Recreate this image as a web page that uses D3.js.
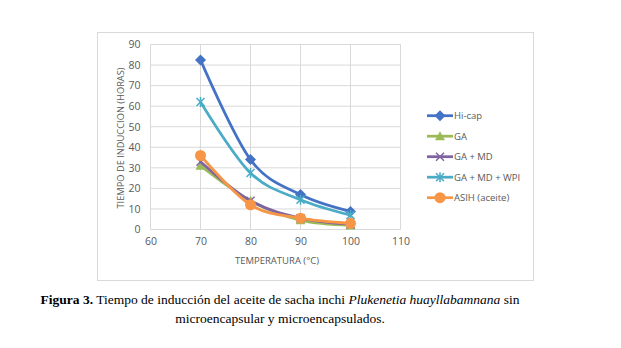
<!DOCTYPE html>
<html>
<head>
  <meta charset="utf-8">
  <title>Tiempo de inducción</title>
  <style>
    body { margin: 0; background: #fff; }
    svg { display: block; }
  </style>
</head>
<body>
  <svg id="chart" width="621" height="348"></svg>

  <script src="https://d3js.org/d3.v7.min.js"></script>
  <script>
    // datos
    const temperatures = [70, 80, 90, 100];
    const seriesNames = ["Hi-cap", "GA", "GA + MD", "GA + MD + WPI", "ASIH (aceite)"];
    const hiCap = [82.5, 34, 17, 8.8];
    const ga = [31, 14, 4.5, 2];
    const gaMd = [33, 14, 5.5, 2.5];
    const gaMdWpi = [62, 27.5, 14.5, 7];
    const asih = [36, 12, 5.5, 3];
    const xTicks = [60, 70, 80, 90, 100, 110];
    const yTicks = [0, 10, 20, 30, 40, 50, 60, 70, 80, 90];

    const seriesValues = [hiCap, ga, gaMd, gaMdWpi, asih];
    const colors = ["#4472C4", "#9BBB59", "#8064A2", "#4BACC6", "#F79646"];
    const markers = ["diamond", "triangle", "x", "star", "circle"];

    const svg = d3.select("#chart");
    const font = "'Open Sans', sans-serif";

    // marco del gráfico
    svg.append("rect")
      .attr("x", 97.5).attr("y", 32.5)
      .attr("width", 436).attr("height", 248)
      .attr("fill", "#fff")
      .attr("stroke", "#d9d9d9");

    const x = d3.scaleLinear().domain([60, 110]).range([150.5, 400.5]);
    const y = d3.scaleLinear().domain([0, 90]).range([229.5, 44.5]);

    // cuadrícula
    svg.append("g").selectAll("line").data(yTicks).join("line")
      .attr("x1", x(60)).attr("x2", x(110))
      .attr("y1", d => y(d)).attr("y2", d => y(d))
      .attr("stroke", "#d9d9d9");
    svg.append("g").selectAll("line").data(xTicks).join("line")
      .attr("x1", d => x(d)).attr("x2", d => x(d))
      .attr("y1", y(0)).attr("y2", y(90))
      .attr("stroke", "#d9d9d9");

    // ejes
    const yAxis = svg.append("g")
      .attr("transform", `translate(${x(60)},0)`)
      .call(d3.axisLeft(y).tickValues(yTicks).tickSize(0).tickPadding(10));
    const xAxis = svg.append("g")
      .attr("transform", `translate(0,${y(0)})`)
      .call(d3.axisBottom(x).tickValues(xTicks).tickSize(0).tickPadding(8));
    [xAxis, yAxis].forEach(g => {
      g.select(".domain").remove();
      g.selectAll("text")
        .attr("fill", "#595959")
        .style("font-family", font)
        .style("font-size", "10.5px");
    });

    svg.append("text")
      .attr("x", 277).attr("y", 264)
      .attr("text-anchor", "middle")
      .attr("fill", "#595959")
      .style("font-family", font)
      .style("font-size", "9.5px")
      .text("TEMPERATURA (°C)");

    svg.append("text")
      .attr("transform", "translate(124,138) rotate(-90)")
      .attr("text-anchor", "middle")
      .attr("fill", "#595959")
      .style("font-family", font)
      .style("font-size", "9.3px")
      .text("TIEMPO DE INDUCCION (HORAS)");

    // marcadores
    function drawMarker(g, type, color, cx, cy) {
      if (type === "diamond") {
        g.append("path")
          .attr("d", `M${cx},${cy - 5.5}L${cx + 5.5},${cy}L${cx},${cy + 5.5}L${cx - 5.5},${cy}Z`)
          .attr("fill", color);
      } else if (type === "triangle") {
        g.append("path")
          .attr("d", `M${cx},${cy - 5}L${cx + 5},${cy + 4}L${cx - 5},${cy + 4}Z`)
          .attr("fill", color);
      } else if (type === "x") {
        g.append("path")
          .attr("d", `M${cx - 4},${cy - 4}L${cx + 4},${cy + 4}M${cx - 4},${cy + 4}L${cx + 4},${cy - 4}`)
          .attr("stroke", color).attr("stroke-width", 1.5);
      } else if (type === "star") {
        g.append("path")
          .attr("d", `M${cx - 4},${cy - 4}L${cx + 4},${cy + 4}M${cx - 4},${cy + 4}L${cx + 4},${cy - 4}M${cx},${cy - 5}L${cx},${cy + 5}`)
          .attr("stroke", color).attr("stroke-width", 1.5);
      } else {
        g.append("circle")
          .attr("cx", cx).attr("cy", cy).attr("r", 5.5)
          .attr("fill", color);
      }
    }

    const line = d3.line()
      .x((d, i) => x(temperatures[i]))
      .y(d => y(d))
      .curve(d3.curveCardinal.tension(0));

    seriesValues.forEach((vals, s) => {
      const g = svg.append("g");
      g.append("path")
        .attr("d", line(vals))
        .attr("fill", "none")
        .attr("stroke", colors[s])
        .attr("stroke-width", 2.75)
        .attr("stroke-linecap", "round");
      vals.forEach((v, i) => drawMarker(g, markers[s], colors[s], x(temperatures[i]), y(v)));
    });

    // leyenda
    const legend = svg.append("g");
    seriesNames.forEach((name, s) => {
      const ly = 115.7 + s * 20.5;
      const g = legend.append("g");
      g.append("line")
        .attr("x1", 427).attr("x2", 453)
        .attr("y1", ly).attr("y2", ly)
        .attr("stroke", colors[s]).attr("stroke-width", 2.75);
      drawMarker(g, markers[s], colors[s], 440, ly);
      g.append("text")
        .attr("x", 454).attr("y", ly + 3.5)
        .attr("fill", "#595959")
        .style("font-family", font)
        .style("font-size", "9.5px")
        .text(name);
    });

    // pie de figura
    const caption = svg.append("text")
      .attr("text-anchor", "middle")
      .style("font-family", "'Liberation Serif', 'Times New Roman', serif")
      .style("font-size", "13.5px")
      .attr("fill", "#000");
    const l1 = caption.append("tspan").attr("x", 280).attr("y", 304);
    l1.append("tspan").attr("font-weight", "bold").text("Figura 3.");
    l1.append("tspan").text(" Tiempo de inducción del aceite de sacha inchi ");
    l1.append("tspan").attr("font-style", "italic").text("Plukenetia huayllabamnana");
    l1.append("tspan").text(" sin");
    caption.append("tspan").attr("x", 280).attr("y", 323).text("microencapsular y microencapsulados.");
  </script>
</body>
</html>
